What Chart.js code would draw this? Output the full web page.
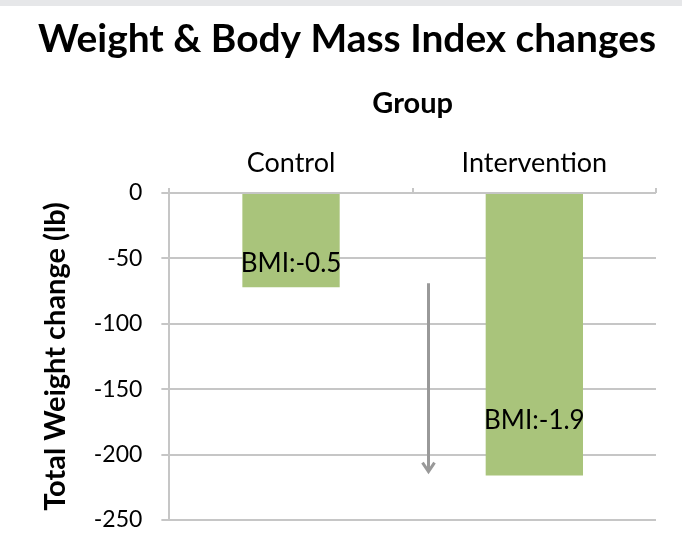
<!DOCTYPE html>
<html>
<head>
<meta charset="utf-8">
<script src="https://cdn.jsdelivr.net/npm/chart.js@4.4.1/dist/chart.umd.min.js"></script>
<style>
  html, body { margin: 0; padding: 0; background: #fff; }
  .wrap { width: 682px; height: 528px; border-top: 6px solid #e6e7e9; }
</style>
</head>
<body>
<div class="wrap"><canvas id="weightChart" width="682" height="528"></canvas></div>
<script>
// data
const groups = ['Control', 'Intervention'];
const weightChange = [-72, -216];
const bmiLabels = ['BMI:-0.5', 'BMI:-1.9'];
const yTicks = [0, -50, -100, -150, -200, -250];

const font = 'Lato, "Open Sans", sans-serif';

// BMI text inside the bars + the grey arrow between them
const extras = {
  id: 'extras',
  afterDatasetsDraw(chart) {
    const c = chart.ctx;
    const xs = chart.scales.x;
    const ys = chart.scales.y;
    const meta = chart.getDatasetMeta(0);
    const where = [0.745, 0.805];

    c.save();
    c.fillStyle = '#000';
    c.font = '26px ' + font;
    c.textAlign = 'center';
    c.textBaseline = 'middle';
    meta.data.forEach((bar, i) => {
      const top = bar.base, bot = bar.y;
      c.fillText(bmiLabels[i], bar.x, top + (bot - top) * where[i]);
    });

    // arrow
    const ax = xs.getPixelForValue(0.565);
    const y1 = ys.getPixelForValue(-69);
    const y2 = ys.getPixelForValue(-213);
    c.strokeStyle = '#999';
    c.lineWidth = 3;
    c.beginPath();
    c.moveTo(ax, y1);
    c.lineTo(ax, y2);
    c.stroke();
    c.beginPath();
    c.moveTo(ax - 6, y2 - 9);
    c.lineTo(ax, y2);
    c.lineTo(ax + 6, y2 - 9);
    c.stroke();
    c.restore();
  }
};

const ctx = document.getElementById('weightChart').getContext('2d');
const weightChart = new Chart(ctx, {
  type: 'bar',
  data: {
    labels: groups,
    datasets: [{
      data: weightChange,
      backgroundColor: '#a9c47b',
      borderWidth: 0,
      barPercentage: 0.4,
      categoryPercentage: 1
    }]
  },
  options: {
    responsive: false,
    animation: false,
    layout: { padding: { left: 38, right: 26, top: 0, bottom: 14 } },
    plugins: {
      legend: { display: false },
      tooltip: { enabled: false },
      title: {
        display: true,
        text: 'Weight & Body Mass Index changes',
        color: '#000',
        font: { family: font, size: 39, weight: 'bold' },
        padding: { top: 10, bottom: 23 }
      }
    },
    scales: {
      x: {
        position: 'top',
        grid: { display: true, drawOnChartArea: false, tickLength: 5, color: '#c6c6c6', lineWidth: 2 },
        border: { display: false },
        ticks: { color: '#000', font: { family: font, size: 27 }, padding: 9 },
        title: {
          display: true,
          text: 'Group',
          color: '#000',
          font: { family: font, size: 29, weight: 'bold' },
          padding: { top: 0, bottom: 17 }
        }
      },
      y: {
        min: -250,
        max: 0,
        afterBuildTicks: axis => { axis.ticks = yTicks.map(v => ({ value: v })); },
        // tick padding would otherwise be added below the last label too
        afterFit: axis => { axis.paddingBottom = 0; },
        grid: { color: '#c6c6c6', lineWidth: 2, tickLength: 8 },
        border: { color: '#c6c6c6', width: 2 },
        ticks: { color: '#000', font: { family: font, size: 23 }, padding: 19 },
        title: {
          display: true,
          text: 'Total Weight change (lb)',
          color: '#000',
          font: { family: font, size: 29, weight: 'bold' },
          padding: { top: 0, bottom: 2 }
        }
      }
    }
  },
  plugins: [extras]
});
</script>
</body>
</html>
